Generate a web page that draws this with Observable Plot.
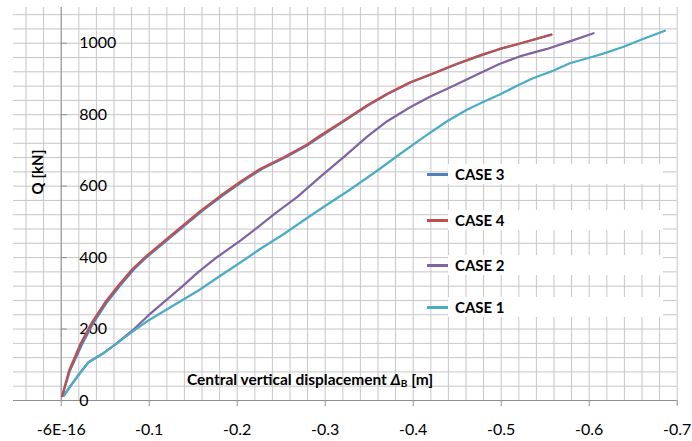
<!DOCTYPE html>
<html>
<head>
<meta charset="utf-8">
<script src="https://cdn.jsdelivr.net/npm/d3@7"></script>
<script src="https://cdn.jsdelivr.net/npm/@observablehq/plot@0.6"></script>
<style>
  html, body { margin: 0; padding: 0; background: #fff; }
  #chart { position: relative; width: 692px; height: 441px; font-family: Lato, "Open Sans", sans-serif; }
  #chart svg { position: absolute; left: 0; top: 0; }
  .xtitle { position: absolute; left: 187px; top: 370px; font-weight: bold; font-size: 15.5px; white-space: nowrap; color: #000; }
  .xtitle i { font-style: italic; }
  .xtitle sub { font-size: 10px; vertical-align: -2px; }
  .ytitle { position: absolute; left: 37px; top: 172px; transform: translate(-50%, -50%) rotate(-90deg); font-weight: bold; font-size: 15px; white-space: nowrap; color: #000; }
  .legend-row { position: absolute; left: 427px; height: 20px; display: flex; align-items: center; }
  .legend-row .swatch { width: 21px; height: 3px; }
  .legend-row .band { background: #fff; width: 215px; height: 20px; display: flex; align-items: center; padding-left: 7px; box-sizing: border-box; font-weight: bold; font-size: 15px; color: #000; }
</style>
</head>
<body>
<div id="chart"></div>
<script>
// Axis ticks and their printed labels
const xTicks = [0, -0.1, -0.2, -0.3, -0.4, -0.5, -0.6, -0.7];
const xTickLabels = ["-6E-16", "-0.1", "-0.2", "-0.3", "-0.4", "-0.5", "-0.6", "-0.7"];
const yTicks = [0, 200, 400, 600, 800, 1000];
const yTickLabels = ["0", "200", "400", "600", "800", "1000"];

// Series names (in drawing order), legend order and colours
const seriesNames = ["CASE 2", "CASE 1", "CASE 3", "CASE 4"];
const legendOrder = ["CASE 3", "CASE 4", "CASE 2", "CASE 1"];
const seriesColors = ["#8064A2", "#4BACC6", "#4F81BD", "#C0504D"];

// Load Q [kN] against central vertical displacement ΔB [m]
const case1X = [-0.003, -0.0125, -0.022, -0.031, -0.0465, -0.0616, -0.081, -0.099, -0.118, -0.137, -0.156, -0.177, -0.204, -0.226, -0.253, -0.279, -0.302, -0.328, -0.359, -0.385, -0.412, -0.438, -0.461, -0.480, -0.499, -0.518, -0.536, -0.559, -0.578, -0.601, -0.616, -0.639, -0.661, -0.686];
const case1Q = [14, 47, 79, 107, 130, 157, 193, 224, 252, 280, 308, 343, 387, 424, 466, 510, 548, 590, 643, 690, 737, 781, 814, 836, 857, 881, 902, 923, 944, 960, 971, 990, 1012, 1035];

const case2X = [-0.003, -0.0125, -0.022, -0.031, -0.0465, -0.0616, -0.081, -0.099, -0.118, -0.137, -0.156, -0.177, -0.204, -0.226, -0.245, -0.268, -0.294, -0.321, -0.347, -0.370, -0.396, -0.419, -0.446, -0.472, -0.498, -0.521, -0.552, -0.578, -0.605];
const case2Q = [14, 47, 79, 107, 130, 157, 196, 238, 278, 318, 360, 401, 448, 490, 527, 569, 625, 681, 737, 781, 820, 850, 881, 912, 942, 963, 984, 1005, 1028];

const case3X = [-0.001, -0.010, -0.024, -0.037, -0.052, -0.067, -0.083, -0.098, -0.117, -0.135, -0.160, -0.183, -0.206, -0.228, -0.255, -0.281, -0.296, -0.322, -0.348, -0.371, -0.397, -0.424, -0.450, -0.477, -0.499, -0.523, -0.557];
const case3Q = [12, 84, 159, 219, 275, 322, 368, 403, 442, 479, 530, 573, 613, 648, 681, 716, 741, 783, 825, 858, 890, 916, 942, 966, 984, 1000, 1024];

const case4X = [-0.001, -0.009, -0.022, -0.035, -0.050, -0.065, -0.081, -0.096, -0.115, -0.133, -0.158, -0.181, -0.204, -0.226, -0.253, -0.279, -0.294, -0.321, -0.347, -0.370, -0.396, -0.423, -0.449, -0.476, -0.498, -0.522, -0.557];
const case4Q = [12, 84, 159, 219, 275, 322, 368, 403, 442, 479, 530, 573, 613, 648, 681, 716, 741, 783, 825, 858, 890, 916, 942, 966, 984, 1000, 1024];

const seriesX = [case2X, case1X, case3X, case4X];
const seriesQ = [case2Q, case1Q, case3Q, case4Q];

const rows = seriesNames.flatMap((name, s) =>
  seriesX[s].map((x, i) => ({case: name, x, q: seriesQ[s][i]}))
);

// Minor grid every 0.02 m and 40 kN
const xGrid = d3.range(-35, 3).map(i => i * 0.02);
const yGrid = d3.range(0, 28).map(i => i * 40);

const gridColor = "#c6c6c6";
const axisColor = "#909090";

const plot = Plot.plot({
  width: 692,
  height: 441,
  marginLeft: 13,
  marginRight: 15.3,
  marginTop: 7,
  marginBottom: 41,
  style: {fontFamily: "Lato, 'Open Sans', sans-serif", fontSize: "16px", color: "#000", background: "#fff"},
  x: {domain: [0.0542, -0.7]},
  y: {domain: [0, 1100]},
  color: {domain: seriesNames, range: seriesColors},
  marks: [
    Plot.ruleX(xGrid, {stroke: gridColor, strokeWidth: 1}),
    Plot.ruleY(yGrid, {stroke: gridColor, strokeWidth: 1}),
    Plot.ruleX([0], {stroke: axisColor, strokeWidth: 1}),
    Plot.ruleY([0], {stroke: axisColor, strokeWidth: 1}),
    Plot.ruleY(yTicks, {x1: 0, x2: -0.007, stroke: axisColor}),
    Plot.axisX(xTicks, {
      tickSize: 6,
      tickPadding: 17,
      stroke: axisColor,
      fill: "#000",
      fontSize: 16,
      tickFormat: d => xTickLabels[xTicks.indexOf(d)],
      label: null
    }),
    Plot.axisY({ticks: [], label: null}),
    Plot.text(yTicks, {
      x: 0,
      y: d => d,
      text: d => yTickLabels[yTicks.indexOf(d)],
      textAnchor: "start",
      dx: 18,
      fontSize: 16,
      fill: "#000"
    }),
    Plot.line(rows, {x: "x", y: "q", z: "case", stroke: "case", strokeWidth: 2.25, strokeLinejoin: "round"})
  ]
});

const chart = document.getElementById("chart");
chart.appendChild(plot);

// Axis titles
const xt = document.createElement("div");
xt.className = "xtitle";
xt.innerHTML = "Central vertical displacement <i>Δ</i><sub>B</sub> [m]";
chart.appendChild(xt);

const yt = document.createElement("div");
yt.className = "ytitle";
yt.textContent = "Q [kN]";
chart.appendChild(yt);

// Legend entries
const legendTops = [164, 210, 255, 297];
legendOrder.forEach((name, i) => {
  const row = document.createElement("div");
  row.className = "legend-row";
  row.style.top = legendTops[i] + "px";
  const sw = document.createElement("div");
  sw.className = "swatch";
  sw.style.background = seriesColors[seriesNames.indexOf(name)];
  const band = document.createElement("div");
  band.className = "band";
  band.textContent = name;
  row.appendChild(sw);
  row.appendChild(band);
  chart.appendChild(row);
});
</script>
</body>
</html>
